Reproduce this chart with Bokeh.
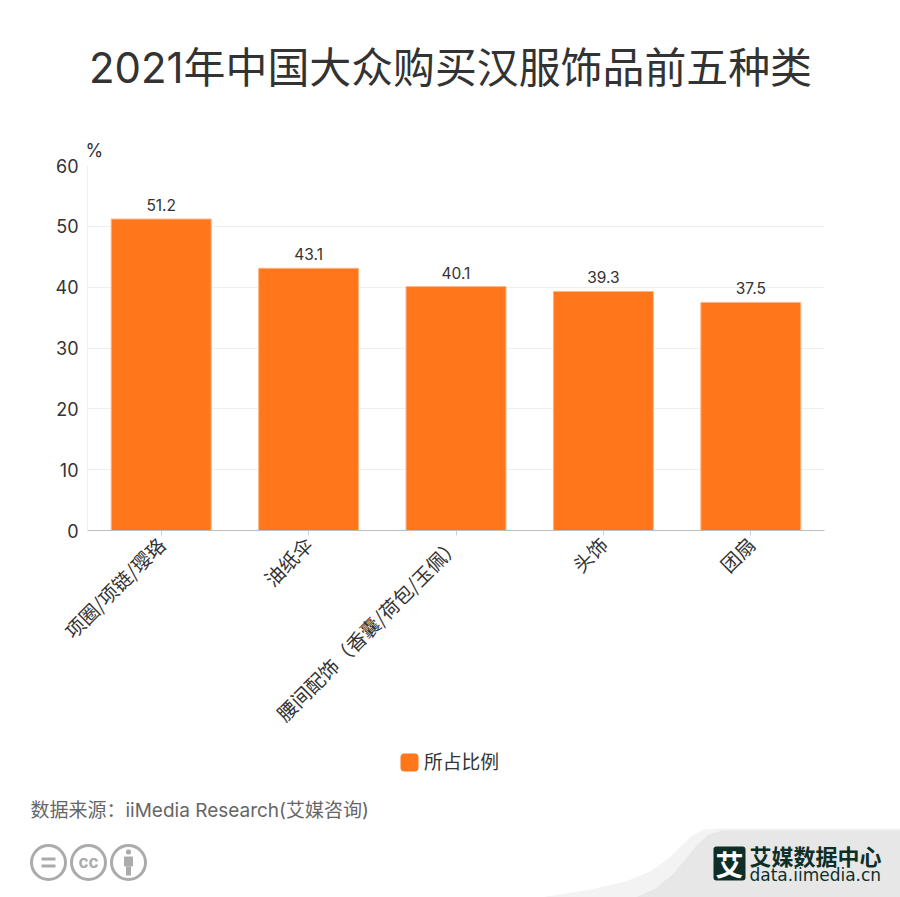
from bokeh.embed import file_html
from bokeh.resources import INLINE
from bokeh.plotting import figure
from bokeh.layouts import column
from bokeh.models import (ColumnDataSource, Label, BoxAnnotation, PolyAnnotation,
                          Legend, LegendItem, FixedTicker)
from bokeh.core.properties import value
import math

categories = ["项圈/项链/璎珞", "油纸伞", "腰间配饰\uff08香囊/荷包/玉佩\uff09", "头饰", "团扇"]
shares = [51.2, 43.1, 40.1, 39.3, 37.5]
share_labels = ["51.2", "43.1", "40.1", "39.3", "37.5"]
y_ticks = [0, 10, 20, 30, 40, 50, 60]
series_name = "所占比例"
title_text = "2021年中国大众购买汉服饰品前五种类"
source_text = "数据来源\uff1aiiMedia Research(艾媒咨询)"
unit_text = "%"

FONT = "Inter, 'Noto Sans CJK SC'"
CJK = "'Noto Sans CJK SC'"
ORANGE = "#ff761b"
W = 900
TOP_H = 130
MAIN_H = 610
FOOT_H = 157
FOOT_Y0 = TOP_H + MAIN_H


def blank(h):
    f = figure(width=W, height=h, x_range=(0, W), y_range=(0, h), x_axis_location=None,
               y_axis_location=None, output_backend="svg", toolbar_location=None, min_border=0,
               frame_align=False)
    f.outline_line_color = None
    f.grid.visible = False
    return f


def add_text(f, ybase, s, px, py, size, color="#333333", font=FONT, align="left", style="normal"):
    f.add_layout(Label(x=px, y=ybase - py, x_units="screen", y_units="screen", text=s,
                       text_font=font, text_font_size=size, text_color=color, text_align=align,
                       text_baseline="middle", text_font_style=style))


# ---- title strip
top = blank(TOP_H)
add_text(top, TOP_H, title_text, 450, 66.5, "41.9px", align="center")

# ---- chart
p = figure(width=W, height=MAIN_H, x_range=categories, y_range=(0, 60), title=unit_text,
           output_backend="svg", toolbar_location=None, frame_align=False,
           min_border_left=87, min_border_right=76, min_border_top=35, min_border_bottom=209)
p.outline_line_color = None
p.x_range.range_padding = 0
p.title.align = "left"
p.title.offset = -2
p.title.text_font = FONT
p.title.text_font_size = "18px"
p.title.text_font_style = "normal"
p.title.text_color = "#333333"
p.title.standoff = 9

src = ColumnDataSource(dict(cat=categories, val=shares, txt=share_labels))
bars = p.vbar(x="cat", top="val", width=0.678, source=src, fill_color=ORANGE,
              line_color="#fcb585", line_width=1)
p.text(x="cat", y="val", text="txt", source=src, text_align="center", text_baseline="bottom",
       y_offset=-8, text_font_size="15.5px", text_color="#333333", text_font=value(FONT))

p.xgrid.visible = False
p.ygrid.grid_line_color = "#efefef"
p.yaxis.ticker = FixedTicker(ticks=y_ticks)
p.yaxis.axis_line_color = "#efefef"
p.yaxis.major_tick_line_color = None
p.yaxis.minor_tick_line_color = None
p.yaxis.major_label_text_font = FONT
p.yaxis.major_label_text_font_size = "18px"
p.yaxis.major_label_text_color = "#333333"
p.yaxis.major_label_standoff = 3
p.xaxis.axis_line_color = "#bdbdbd"
p.xaxis.major_tick_line_color = "#d0d0d0"
p.xaxis.major_tick_in = 0
p.xaxis.major_tick_out = 5
p.xaxis.minor_tick_line_color = None
p.xaxis.major_label_orientation = math.pi / 4
p.xaxis.major_label_text_font = CJK
p.xaxis.major_label_text_font_size = "19.5px"
p.xaxis.major_label_text_color = "#333333"

# ---- footer
foot = blank(FOOT_H)


def fy(py):
    return FOOT_Y0 + FOOT_H - py


def box(x0, y0, x1, y1, fill=None, line=None, lw=0, r=0):
    foot.add_layout(BoxAnnotation(left=x0, right=x1, top=fy(y0), bottom=fy(y1),
                                  left_units="screen", right_units="screen", top_units="screen",
                                  bottom_units="screen", fill_color=fill, fill_alpha=1 if fill else 0,
                                  line_color=line, line_width=lw, line_alpha=1 if line else 0,
                                  border_radius=r))


def poly(xs, ys, color):
    foot.add_layout(PolyAnnotation(xs=xs, ys=[fy(v) for v in ys], xs_units="screen", ys_units="screen",
                                   fill_color=color, fill_alpha=1, line_color=None))


def ftxt(*a, **k):
    add_text(foot, fy(0), *a, **k)


poly([540, 590, 625, 650, 668, 682, 692, 703, 716, 900, 900],
     [897, 889, 881, 871, 858, 844, 835, 829, 828, 828, 897], "#f3f3f3")
poly([635, 655, 672, 684, 696, 708, 722, 900, 900],
     [897, 888, 874, 860, 845, 834, 830, 830, 897], "#e7e7e7")

legend_swatch = foot.vbar(x=[-100], top=[-100], width=1, fill_color=ORANGE, line_color=ORANGE)
legend = Legend(items=[LegendItem(label=series_name, renderers=[legend_swatch])],
                location=(402, fy(774)), orientation="horizontal",
                glyph_width=14, glyph_height=14, label_standoff=8, margin=0, padding=0,
                border_line_color=None, background_fill_color=None,
                label_text_font=CJK, label_text_font_size="18.8px", label_text_color="#333333")
foot.add_layout(legend)
box(400, 753, 418, 771, fill=ORANGE, r=4)

ftxt(source_text, 30, 810, "19px", color="#666666")

# licence icons
for cx in (48, 88, 128):
    box(cx - 17, 845, cx + 17, 879, line="#ababab", lw=3, r=17)
box(41, 857, 55, 860, fill="#ababab")
box(41, 864, 55, 867, fill="#ababab")
ftxt("cc", 88, 861, "17px", color="#ababab", align="center", style="bold")
box(125.5, 849, 130.5, 854, fill="#ababab", r=2)
box(123.5, 856, 132.5, 866, fill="#ababab", r=1)
box(125.5, 866, 130.5, 875, fill="#ababab")

# brand mark
box(713, 846, 745, 880, fill="#0d2f28", r=3)
ftxt("艾", 729, 863, "28px", color="white", font=CJK, align="center", style="bold")
ftxt("艾媒数据中心", 749, 854.5, "22px", color="#0d2f28", font=CJK, style="bold")
ftxt("data.iimedia.cn", 749, 874, "17px", color="#0d2f28", font="'DejaVu Sans'")

page = column(top, p, foot, spacing=0)
open("out.html", "w").write(file_html(page, INLINE))
